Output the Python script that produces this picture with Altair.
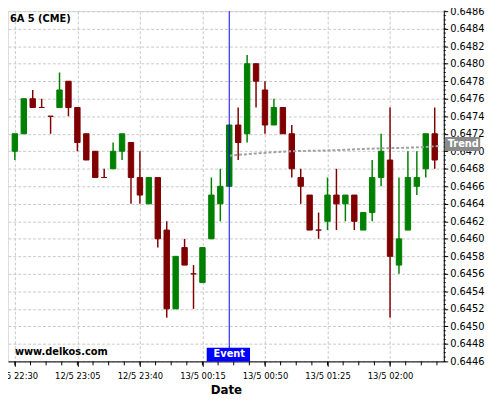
import altair as alt
import pandas as pd
import numpy as np

# ---- data ----
times_day12 = ["22:30", "22:35", "22:40", "22:45", "22:50", "22:55", "23:00", "23:05",
               "23:10", "23:15", "23:20", "23:25", "23:30", "23:35", "23:40", "23:45",
               "23:50", "23:55"]
times_day13 = ["00:00", "00:05", "00:10", "00:15", "00:20", "00:25", "00:30", "00:35",
               "00:40", "00:45", "00:50", "00:55", "01:00", "01:05", "01:10", "01:15",
               "01:20", "01:25", "01:30", "01:35", "01:40", "01:45", "01:50", "01:55",
               "02:00", "02:05", "02:10", "02:15", "02:20", "02:25"]
times = ["2015-05-12T" + t + ":00" for t in times_day12] + \
        ["2015-05-13T" + t + ":00" for t in times_day13]

opens = [0.6470, 0.6472, 0.6476, 0.6475, 0.6474, 0.6475, 0.6478, 0.6475, 0.6472, 0.6470,
         0.6467, 0.6468, 0.6470, 0.6471, 0.6467, 0.6464, 0.6467, 0.6461, 0.6452, 0.6459,
         0.6456, 0.6455, 0.6460, 0.6464, 0.6466, 0.6473, 0.6472, 0.6480, 0.6477, 0.6473,
         0.6475, 0.6472, 0.6467, 0.6465, 0.6461, 0.6462, 0.6465, 0.6464, 0.6465, 0.6461,
         0.6463, 0.6467, 0.6469, 0.6457, 0.6461, 0.6466, 0.6468, 0.6472]
highs = [0.6472, 0.6476, 0.6477, 0.6476, 0.6474, 0.6479, 0.6478, 0.6475, 0.6472, 0.6470,
         0.6468, 0.6471, 0.6472, 0.6471, 0.6470, 0.6467, 0.6467, 0.6462, 0.6458, 0.6460,
         0.6457, 0.6459, 0.6467, 0.6468, 0.6473, 0.6475, 0.6481, 0.6480, 0.6478, 0.6476,
         0.6475, 0.6473, 0.6468, 0.6465, 0.6463, 0.6467, 0.6468, 0.6465, 0.6465, 0.6463,
         0.6469, 0.6472, 0.6475, 0.6467, 0.6470, 0.6470, 0.6472, 0.6475]
lows = [0.6469, 0.6472, 0.6475, 0.6475, 0.6472, 0.6475, 0.6474, 0.6470, 0.6469, 0.6467,
        0.6467, 0.6468, 0.6469, 0.6464, 0.6464, 0.6464, 0.6459, 0.6451, 0.6452, 0.6457,
        0.6452, 0.6455, 0.6460, 0.6462, 0.6466, 0.6469, 0.6471, 0.6475, 0.6472, 0.6473,
        0.6472, 0.6467, 0.6464, 0.6461, 0.6460, 0.6461, 0.6461, 0.6462, 0.6461, 0.6461,
        0.6462, 0.6466, 0.6451, 0.6456, 0.6461, 0.6465, 0.6467, 0.6468]
closes = [0.6472, 0.6476, 0.6475, 0.6475, 0.6474, 0.6477, 0.6475, 0.6471, 0.6469, 0.6467,
          0.6467, 0.6470, 0.6472, 0.6467, 0.6465, 0.6467, 0.6460, 0.6452, 0.6458, 0.6457,
          0.6456, 0.6459, 0.6465, 0.6466, 0.6473, 0.6471, 0.6480, 0.6478, 0.6473, 0.6475,
          0.6472, 0.6468, 0.6466, 0.6461, 0.6461, 0.6465, 0.6464, 0.6465, 0.6462, 0.6463,
          0.6467, 0.6470, 0.6458, 0.6460, 0.6467, 0.6467, 0.6472, 0.6469]

trend_times = ["2015-05-13T00:30:00", "2015-05-13T01:05:00", "2015-05-13T01:25:00",
               "2015-05-13T01:50:00", "2015-05-13T02:20:00", "2015-05-13T02:27:20"]
trend_values = [0.64695, 0.64700, 0.64701, 0.64703, 0.64705, 0.64706]

event_time = ["2015-05-13T00:30:00"]

y_ticks = [0.6446, 0.6448, 0.6450, 0.6452, 0.6454, 0.6456, 0.6458, 0.6460, 0.6462, 0.6464,
           0.6466, 0.6468, 0.6470, 0.6472, 0.6474, 0.6476, 0.6478, 0.6480, 0.6482, 0.6484,
           0.6486]
y_minor = [round(0.6446 + i * 0.00005, 5) for i in range(81)]

x_label_times = [
    alt.DateTime(year=2015, month=5, date=12, hours=22, minutes=30),
    alt.DateTime(year=2015, month=5, date=12, hours=23, minutes=5),
    alt.DateTime(year=2015, month=5, date=12, hours=23, minutes=40),
    alt.DateTime(year=2015, month=5, date=13, hours=0, minutes=15),
    alt.DateTime(year=2015, month=5, date=13, hours=0, minutes=50),
    alt.DateTime(year=2015, month=5, date=13, hours=1, minutes=25),
    alt.DateTime(year=2015, month=5, date=13, hours=2, minutes=0),
]
x_domain = [alt.DateTime(year=2015, month=5, date=12, hours=22, minutes=28, seconds=55),
            alt.DateTime(year=2015, month=5, date=13, hours=2, minutes=27, seconds=20)]
# minor x ticks: four per labelled 35-minute interval
x_minor = [t.strftime("%Y-%m-%dT%H:%M:%S") for t in
           pd.date_range("2015-05-12T22:30:00", "2015-05-13T02:27:00", freq="525s")]

# ---- frames ----
df = pd.DataFrame({"t": times, "open": opens, "high": highs, "low": lows, "close": closes})
df["dir"] = np.where(df["close"] > df["open"], "up", "down")
trend_df = pd.DataFrame({"t": trend_times, "v": trend_values})
event_df = pd.DataFrame({"t": event_time, "label": ["Event"]})
minor_df = pd.DataFrame({"y": y_minor})
xminor_df = pd.DataFrame({"t": x_minor})

W, H = 443, 356
FONT = "DejaVu Sans"

xscale = alt.Scale(domain=x_domain)
yscale = alt.Scale(domain=[0.6446, 0.6486], nice=False, zero=False)
cscale = alt.Scale(domain=["up", "down"], range=["#008000", "#800000"])

x_axis = alt.Axis(values=x_label_times, format="%-d/%-m %H:%M", title="Date",
                  labelFlush=False, labelOverlap=False)
y_axis = alt.Axis(orient="right", values=y_ticks, format=".4f", title=None,
                  labelFlush=False, labelOverlap=False)

base = alt.Chart(df)

wicks = base.mark_rule(strokeWidth=1.5).encode(
    x=alt.X("t:T", scale=xscale, axis=x_axis),
    y=alt.Y("low:Q", scale=yscale, axis=y_axis),
    y2="high:Q",
    color=alt.Color("dir:N", scale=cscale, legend=None),
)

bodies = base.mark_bar(size=5.5, strokeWidth=1).encode(
    x=alt.X("t:T", axis=x_axis),
    y=alt.Y("open:Q", axis=y_axis),
    y2="close:Q",
    color=alt.Color("dir:N", scale=cscale, legend=None),
    stroke=alt.Stroke("dir:N", scale=cscale, legend=None),
)

trend = alt.Chart(trend_df).mark_line(
    color="#a0a0a0", strokeWidth=2, strokeDash=[3, 2], interpolate="monotone"
).encode(x=alt.X("t:T", axis=x_axis), y=alt.Y("v:Q", axis=y_axis))

minor_ticks = alt.Chart(minor_df).mark_rule(color="black", strokeWidth=1).encode(
    y=alt.Y("y:Q", axis=y_axis), x=alt.value(W), x2=alt.value(W + 2)
)

xminor_ticks = alt.Chart(xminor_df).mark_rule(color="black", strokeWidth=1).encode(
    x=alt.X("t:T", axis=x_axis), y=alt.value(H), y2=alt.value(H + 4)
)

event_rule = alt.Chart(event_df).mark_rule(color="#0000ff", strokeWidth=1).encode(
    x=alt.X("t:T", axis=x_axis))

event_box = alt.Chart(event_df).mark_rect(color="#0000ff").encode(
    x=alt.value(202), x2=alt.value(246), y=alt.value(H - 14), y2=alt.value(H)
)
event_text = alt.Chart(event_df).mark_text(
    color="white", font=FONT, fontSize=10, fontWeight="bold", align="center",
    baseline="middle"
).encode(x=alt.X("t:T", axis=x_axis), y=alt.value(H - 7), text="label:N")

trend_box = alt.Chart(pd.DataFrame({"label": ["Trend"]})).mark_rect(color="#8a8a8a").encode(
    x=alt.value(W + 1), x2=alt.value(W + 37), y=alt.value(128), y2=alt.value(142)
)
trend_text = alt.Chart(pd.DataFrame({"label": ["Trend"]})).mark_text(
    color="white", font=FONT, fontSize=10, fontWeight="bold", align="left",
    baseline="middle"
).encode(x=alt.value(W + 4), y=alt.value(135), text="label:N")

title_text = alt.Chart(pd.DataFrame({"label": ["6A 5 (CME)"]})).mark_text(
    color="black", font=FONT, fontSize=10, fontWeight="bold", align="left",
    baseline="alphabetic"
).encode(x=alt.value(2), y=alt.value(11), text="label:N")

site_text = alt.Chart(pd.DataFrame({"label": ["www.delkos.com"]})).mark_text(
    color="black", font=FONT, fontSize=10, fontWeight="bold", align="left",
    baseline="alphabetic"
).encode(x=alt.value(7), y=alt.value(349), text="label:N")

chart = alt.layer(
    wicks, bodies, trend, minor_ticks, xminor_ticks, event_rule, event_box, event_text,
    trend_box, trend_text, title_text, site_text
).properties(
    width=W, height=H,
    autosize=alt.AutoSizeParams(type="none"),
    padding={"left": 0, "top": 0, "right": 49, "bottom": 36},
).configure_view(stroke=None).configure(background="white").configure_axis(
    grid=True, gridDash=[3, 2], gridColor="#c8c8c8", tickColor="black",
    domainColor="black", labelColor="black", labelFont=FONT, labelOverlap=False,
    labelFlush=False, titleColor="black", titleFont=FONT
).configure_axisX(
    tickSize=5, labelFontSize=8.5, labelPadding=5, titleFontSize=12,
    titleFontWeight="bold", titlePadding=5
).configure_axisY(
    tickSize=4, labelFontSize=10, labelPadding=2
)

chart.save("out.html", embed_options={"renderer": "svg", "actions": False})
